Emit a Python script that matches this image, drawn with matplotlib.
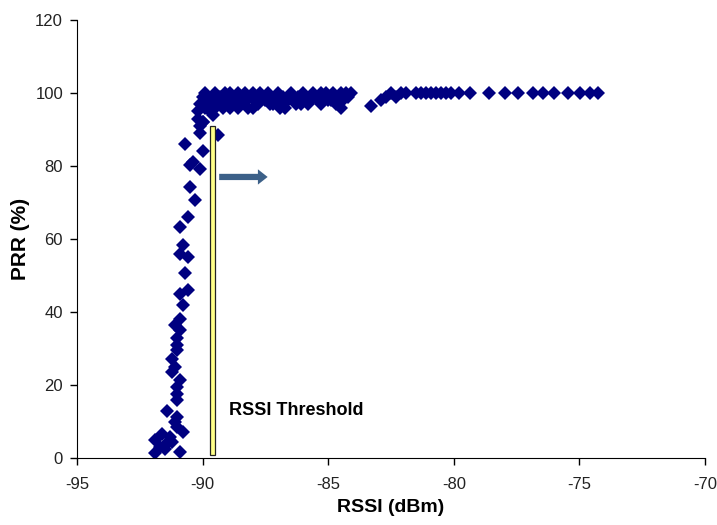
import matplotlib
matplotlib.use('Agg')
from matplotlib import pyplot as plt
from matplotlib.patches import Rectangle

# steep part of the curve
rssi_low = [-91.9, -91.9, -91.7, -91.4, -91.3, -91.2, -90.9, -90.8, -91.0, -91.0,
            -91.4, -91.0, -91.0, -91.2, -90.9, -91.2, -91.0, -91.0, -91.1, -90.8,
            -90.9, -90.6, -90.7, -90.9, -90.6, -90.8, -90.9, -90.6, -90.3, -90.5,
            -90.1, -90.5, -90.4, -90.0, -90.7, -90.1, -90.0, -91.1, -91.0, -90.9,
            -91.0, -90.9, -91.1, -91.6, -91.5]
prr_low = [1.4, 5.0, 3.0, 4.0, 5.8, 4.4, 1.6, 7.0, 8.5, 11.2,
           13.0, 16.0, 19.5, 23.6, 21.4, 27.0, 29.6, 33.0, 36.4, 42.0,
           45.0, 46.0, 50.7, 56.0, 55.0, 58.4, 63.3, 66.0, 70.7, 74.2,
           79.2, 80.3, 81.1, 84.0, 86.0, 89.0, 92.0, 25.0, 31.0, 35.0,
           17.5, 38.0, 10.0, 6.5, 2.5]

# upper plateau
rssi_high = [-90.2, -90.1, -90.0, -90.2, -89.9, -89.8, -89.7, -89.6, -89.5, -89.4,
             -89.3, -89.2, -89.1, -89.0, -88.9, -88.8, -88.7, -88.6, -88.5, -88.4,
             -88.3, -88.2, -88.1, -88.0, -87.9, -87.8, -87.6, -87.5, -87.4, -87.3,
             -87.2, -87.1, -87.0, -86.9, -86.8, -86.7, -86.6, -86.5, -86.4, -86.3,
             -86.2, -86.1, -86.0, -85.9, -85.8, -85.7, -85.6, -85.5, -85.4, -85.3,
             -85.2, -85.1, -85.0, -84.9, -84.8, -84.7, -84.6, -84.5, -84.4, -84.3,
             -84.2, -84.1, -89.9, -89.7, -89.5, -89.2, -88.9, -88.6, -88.3, -88.0,
             -87.7, -87.3, -86.9, -86.5, -86.1, -85.7, -85.3, -84.9, -84.5, -90.1,
             -89.4, -83.3, -82.9, -82.7, -82.5, -82.3, -82.1, -81.9, -81.5, -81.3,
             -81.1, -80.9, -80.7, -80.5, -80.3, -80.1, -79.8, -79.35, -78.6, -77.96,
             -77.44, -76.85, -76.45, -76.0, -75.45, -74.98, -74.58, -74.26, -90.0, -89.6]
prr_high = [95.0, 97.0, 99.0, 93.0, 96.0, 98.0, 97.0, 99.0, 96.0, 98.0,
            99.0, 97.0, 100.0, 98.0, 96.0, 99.0, 98.0, 100.0, 97.0, 99.0,
            98.0, 96.0, 99.0, 100.0, 98.0, 97.0, 99.0, 98.0, 100.0, 99.0,
            97.0, 99.0, 100.0, 98.0, 99.0, 96.0, 98.0, 100.0, 99.0, 97.0,
            99.0, 98.0, 100.0, 99.0, 97.0, 98.0, 100.0, 99.0, 98.0, 97.0,
            99.0, 100.0, 98.0, 99.0, 100.0, 97.0, 99.0, 100.0, 98.0, 100.0,
            99.0, 100.0, 100.0, 95.0, 100.0, 96.0, 100.0, 96.0, 100.0, 96.0,
            100.0, 97.0, 96.0, 99.0, 97.0, 99.0, 100.0, 98.0, 96.0, 91.0,
            88.5, 96.5, 98.0, 99.0, 100.0, 99.0, 100.0, 100.0, 100.0, 100.0,
            100.0, 100.0, 100.0, 100.0, 100.0, 100.0, 100.0, 100.0, 100.0, 100.0,
            100.0, 100.0, 100.0, 100.0, 100.0, 100.0, 100.0, 100.0, 92.0, 94.0]

threshold = -89.6
x_ticks = [-95, -90, -85, -80, -75, -70]
y_ticks = [0, 20, 40, 60, 80, 100, 120]

fam = ['Liberation Sans', 'DejaVu Sans']
plt.rcParams['axes.unicode_minus'] = False

fig = plt.figure(figsize=(7.17, 5.25), dpi=100)
ax = fig.add_axes([0.1074, 0.1276, 0.8758, 0.8343])

ax.plot(rssi_low + rssi_high, prr_low + prr_high, linestyle='none', marker='D',
        markersize=7.5, color='#000080', markeredgewidth=0)

# threshold bar
ax.add_patch(Rectangle((threshold - 0.1, 0.8), 0.2, 90.2, facecolor='#FFFF88',
                       edgecolor='#222222', linewidth=0.9, zorder=3))
ax.annotate('', xy=(-87.3, 77), xytext=(threshold + 0.15, 77),
            arrowprops=dict(arrowstyle='simple,head_width=1.1,head_length=0.7,tail_width=0.45',
                            color='#3C6088', lw=0))
ax.text(-88.95, 12.9, 'RSSI Threshold', fontsize=13, fontweight='bold',
        family=fam, va='center', ha='left')

ax.set_xlim(-95, -70)
ax.set_ylim(0, 120)
ax.set_xticks(x_ticks)
ax.set_yticks(y_ticks)
for lab in ax.get_xticklabels() + ax.get_yticklabels():
    lab.set_family(fam)
    lab.set_fontsize(12)
    lab.set_color('#222222')
ax.spines['top'].set_visible(False)
ax.spines['right'].set_visible(False)
ax.tick_params(direction='out', length=5, width=1)
ax.tick_params(axis='x', pad=9)
ax.tick_params(axis='y', pad=5)
ax.set_xlabel('RSSI (dBm)', fontsize=14, fontweight='bold', family=fam, labelpad=5)
ax.set_ylabel('PRR (%)', fontsize=15, fontweight='bold', family=fam, labelpad=4)

plt.savefig('out.png', dpi=100)
